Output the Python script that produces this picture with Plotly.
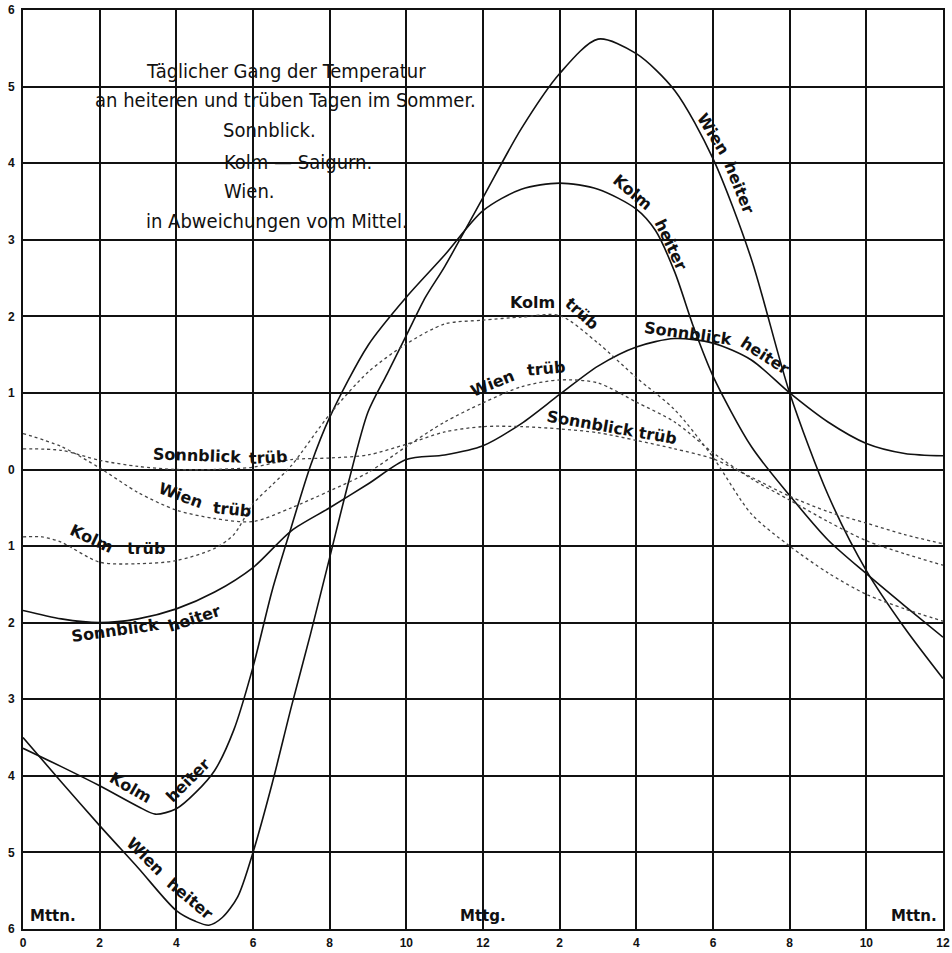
import plotly.graph_objects as go

# ---- data (hours from midnight, deviation from daily mean in °C) ----
hours = [0, 1, 2, 3, 4, 5, 6, 7, 8, 9, 10, 11, 12, 13, 14, 15, 16, 17, 18, 19, 20, 21, 22, 23, 24]

wien_heiter_x = [0, 1, 2, 3, 4, 4.5, 4.85, 5.2, 5.6, 6, 6.5, 7, 7.5, 8, 8.5, 9, 9.5, 10, 10.5, 11, 12, 13, 14, 15, 16, 17, 18, 19, 20, 21, 22, 23, 24]
wien_heiter_y = [-3.50, -4.08, -4.65, -5.20, -5.76, -5.90, -5.95, -5.85, -5.58, -5.00, -4.10, -3.10, -2.15, -1.15, -0.15, 0.75, 1.25, 1.75, 2.25, 2.65, 3.55, 4.45, 5.17, 5.62, 5.43, 4.95, 4.06, 2.75, 1.00, -0.33, -1.32, -2.07, -2.73]

kolm_heiter_x = [0, 1, 2, 3, 3.45, 4, 4.5, 5, 5.5, 6, 6.5, 7, 7.5, 8, 9, 10, 11, 12, 13, 14, 15, 16, 16.5, 17, 17.5, 18, 19, 20, 21, 22, 23, 24]
kolm_heiter_y = [-3.64, -3.88, -4.13, -4.40, -4.50, -4.43, -4.22, -3.93, -3.40, -2.58, -1.58, -0.75, 0.05, 0.68, 1.62, 2.25, 2.80, 3.38, 3.66, 3.74, 3.66, 3.40, 3.12, 2.58, 1.85, 1.22, 0.30, -0.34, -0.92, -1.36, -1.78, -2.19]

sonnblick_heiter_y = [-1.84, -1.95, -2.00, -1.95, -1.82, -1.60, -1.28, -0.80, -0.50, -0.19, 0.13, 0.19, 0.31, 0.60, 0.98, 1.35, 1.60, 1.71, 1.65, 1.43, 1.00, 0.62, 0.34, 0.21, 0.18]

wien_trueb_y = [0.47, 0.30, 0.02, -0.30, -0.53, -0.64, -0.68, -0.50, -0.28, -0.04, 0.30, 0.62, 0.87, 1.08, 1.17, 1.13, 0.88, 0.62, 0.22, -0.12, -0.40, -0.68, -0.93, -1.10, -1.25]

sonnblick_trueb_y = [0.27, 0.25, 0.12, 0.04, 0.00, 0.00, 0.03, 0.13, 0.15, 0.19, 0.33, 0.49, 0.56, 0.56, 0.53, 0.48, 0.38, 0.27, 0.14, -0.10, -0.35, -0.55, -0.70, -0.85, -0.97]

kolm_trueb_x = [0, 0.5, 1, 2, 3, 4, 5, 5.5, 6, 6.5, 7, 8, 9, 10, 11, 12, 13, 14, 15, 16, 17, 18, 19, 20, 21, 22, 23, 24]
kolm_trueb_y = [-0.88, -0.88, -0.95, -1.21, -1.23, -1.19, -1.03, -0.85, -0.45, -0.20, 0.05, 0.72, 1.27, 1.64, 1.90, 1.95, 1.99, 2.01, 1.65, 1.20, 0.78, 0.16, -0.58, -1.00, -1.35, -1.63, -1.82, -1.98]

x_tickvals = [0, 2, 4, 6, 8, 10, 12, 14, 16, 18, 20, 22, 24]
x_ticktext = ["0", "2", "4", "6", "8", "10", "12", "2", "4", "6", "8", "10", "12"]
y_tickvals = [-6, -5, -4, -3, -2, -1, 0, 1, 2, 3, 4, 5, 6]
y_ticktext = ["6", "5", "4", "3", "2", "1", "0", "1", "2", "3", "4", "5", "6"]

title_lines = ["Täglicher Gang der Temperatur",
               "an heiteren und trüben Tagen im Sommer.",
               "Sonnblick.",
               "Kolm — Saigurn.",
               "Wien.",
               "in Abweichungen vom Mittel."]

# curve labels: (text, x, y, angle)
curve_labels = [
    ("Wien", 18.0, 4.39, 58), ("heiter", 18.68, 3.68, 68),
    ("Kolm", 15.91, 3.62, 40), ("heiter", 16.9, 2.94, 65),
    ("Kolm", 13.3, 2.18, 0), ("trüb", 14.58, 2.04, 42),
    ("Sonnblick", 17.35, 1.78, 8), ("heiter", 19.35, 1.49, 33),
    ("Wien", 12.24, 1.12, -22), ("trüb", 13.65, 1.32, -5),
    ("Sonnblick trüb", 15.37, 0.55, 10),
    ("Sonnblick", 4.55, 0.18, 2), ("trüb", 6.4, 0.16, -3),
    ("Wien", 4.12, -0.34, 20), ("trüb", 5.45, -0.52, 6),
    ("Kolm", 1.78, -0.9, 25), ("trüb", 3.2, -1.03, 0),
    ("Sonnblick", 2.4, -2.1, -8), ("heiter", 4.45, -1.94, -18),
    ("Kolm", 2.8, -4.15, 30), ("heiter", 4.3, -4.06, -45),
    ("Wien", 3.2, -5.05, 45), ("heiter", 4.35, -5.6, 40),
]

NARROW = "Liberation Sans Narrow, DejaVu Sans Condensed, Roboto Condensed, Arial Narrow, Liberation Sans, sans-serif"
BOLD = "DejaVu Sans, Liberation Sans, sans-serif"
SANS = "Liberation Sans, Arial, sans-serif"

fig = go.Figure()

solid = dict(color="#111111", width=1.6, shape="spline", smoothing=0.8)
dotted = dict(color="#444444", width=1.3, dash="dot", shape="spline", smoothing=0.8)

fig.add_trace(go.Scatter(x=wien_heiter_x, y=wien_heiter_y, mode="lines", name="Wien heiter", line=solid))
fig.add_trace(go.Scatter(x=kolm_heiter_x, y=kolm_heiter_y, mode="lines", name="Kolm heiter", line=solid))
fig.add_trace(go.Scatter(x=hours, y=sonnblick_heiter_y, mode="lines", name="Sonnblick heiter", line=solid))
fig.add_trace(go.Scatter(x=hours, y=wien_trueb_y, mode="lines", name="Wien trüb", line=dotted))
fig.add_trace(go.Scatter(x=hours, y=sonnblick_trueb_y, mode="lines", name="Sonnblick trüb", line=dotted))
fig.add_trace(go.Scatter(x=kolm_trueb_x, y=kolm_trueb_y, mode="lines", name="Kolm trüb", line=dotted))

annotations = []
title_pos = [(6.86, 5.21), (6.86, 4.82), (6.44, 4.43), (7.17, 4.01), (5.92, 3.64), (6.63, 3.25)]
for txt, (tx, ty) in zip(title_lines, title_pos):
    annotations.append(dict(x=tx, y=ty, xref="x", yref="y", text=txt, showarrow=False,
                            font=dict(family=NARROW, size=20, color="#111111")))

for txt, lx, ly, ang in curve_labels:
    annotations.append(dict(x=lx, y=ly, xref="x", yref="y", text=txt, showarrow=False,
                            textangle=ang,
                            font=dict(family=BOLD, size=16, color="#111111", weight="bold")))

for txt, lx in [("Mttn.", 0.78), ("Mttg.", 12.0), ("Mttn.", 23.25)]:
    annotations.append(dict(x=lx, y=-5.83, xref="x", yref="y", text=txt, showarrow=False,
                            font=dict(family=BOLD, size=15, color="#111111", weight="bold")))

fig.update_layout(
    width=952, height=953,
    margin=dict(l=23, r=9, t=10, b=24, autoexpand=False),
    paper_bgcolor="white", plot_bgcolor="white",
    showlegend=False,
    annotations=annotations,
    xaxis=dict(range=[0, 24], tickvals=x_tickvals, ticktext=x_ticktext, automargin=False,
               showgrid=True, gridcolor="#111111", gridwidth=2,
               zeroline=False, showline=True, linecolor="#111111", linewidth=2, mirror=True,
               ticks="", ticklabelstandoff=2,
               tickfont=dict(family=SANS, size=12, color="#111111", weight="bold")),
    yaxis=dict(range=[-6, 6], tickvals=y_tickvals, ticktext=y_ticktext, automargin=False,
               showgrid=True, gridcolor="#111111", gridwidth=2,
               zeroline=False, showline=True, linecolor="#111111", linewidth=2, mirror=True,
               ticks="", ticklabelstandoff=4,
               tickfont=dict(family=SANS, size=12, color="#111111", weight="bold")),
)

fig.write_html("out.html", config={"displayModeBar": False},
               post_script="document.body.style.margin='0';document.body.style.overflow='hidden';")
